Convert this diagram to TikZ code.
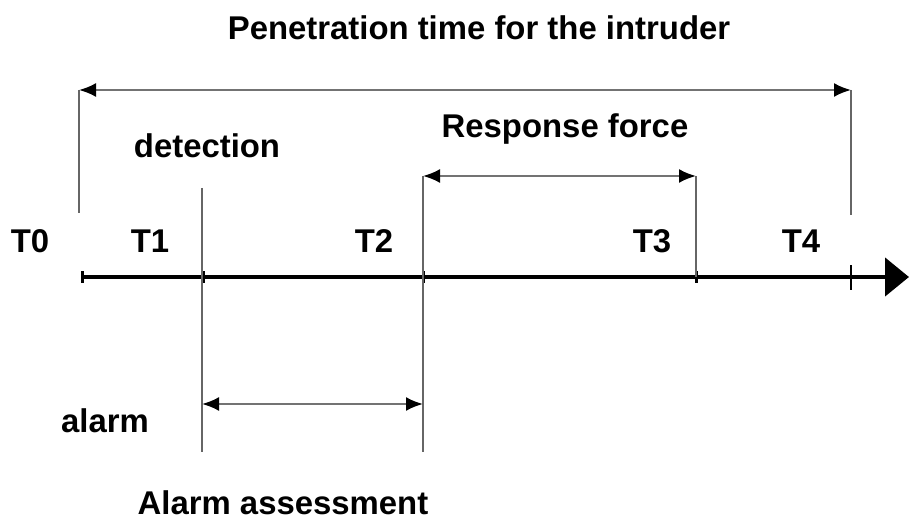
\documentclass[tikz,border=0pt]{standalone}
\usepackage{fontspec}
\setmainfont{Liberation Sans}
\usetikzlibrary{arrows.meta}
\begin{document}
\begin{tikzpicture}[x=1bp,y=-1bp,
  lbl/.style={font=\fontsize{33}{38}\selectfont\bfseries, inner sep=0pt, anchor=base},
  guide/.style={line width=1.6bp, draw=black!60},
  span/.style={line width=2.2bp, draw=black!55,
    {Latex[length=17bp,width=14bp,black]}-{Latex[length=17bp,width=14bp,black]}},
  axis/.style={line width=4.5bp, -{Triangle[length=24bp,width=38bp]}},
  tickmark/.style={line width=3bp}]
\useasboundingbox (0,0) rectangle (909,521);

% time axis and its marks
\coordinate (t0) at (82,277);
\coordinate (t1) at (203,277);
\coordinate (t2) at (423,277);
\coordinate (t3) at (696,277);
\coordinate (t4) at (851,277);
\coordinate (tend) at (909,277);
\draw[axis] (t0) -- (tend);
\foreach \t in {t0,t1,t2,t3}
  \draw[tickmark] ([yshift=-6bp]\t) -- ([yshift=6bp]\t);
\draw[tickmark,line width=2bp] ([yshift=-13bp]t4) -- ([yshift=12bp]t4);

% upper ends of the guide lines
\coordinate (p0) at (79,90);
\coordinate (p4) at (851,90);
\coordinate (r2) at (423,176);
\coordinate (r3) at (696,176);
\coordinate (d1) at (202,188);
% lower ends of the guide lines
\coordinate (q0) at (79,213);
\coordinate (q4) at (851,215);
\coordinate (a1) at (202,404);
\coordinate (a2) at (423,404);
\coordinate (b1) at (202,452);
\coordinate (b2) at (423,452);

% guide lines
\draw[guide] (p0) -- (q0);
\draw[guide] (p4) -- (q4);
\draw[guide] (d1) -- (b1);
\draw[guide] (r2) -- (b2);
\draw[guide] (r3) -- (t3);

% interval arrows
\draw[span] (p0) -- (p4);
\draw[span] (r2) -- (r3);
\draw[span] (a1) -- (a2);

% labels
\node[lbl] (title) at (479,40) {Penetration time for the intruder};
\node[lbl] (det) at (207,158) {detection};
\node[lbl] (resp) at (565,138) {Response force};
\node[lbl] (l0) at (30,253) {T0};
\node[lbl] (l1) at (150,253) {T1};
\node[lbl] (l2) at (374,253) {T2};
\node[lbl] (l3) at (652,253) {T3};
\node[lbl] (l4) at (801,253) {T4};
\node[lbl] (alarm) at (105,432) {alarm};
\node[lbl] (assess) at (283,514) {Alarm assessment};
\end{tikzpicture}
\end{document}
